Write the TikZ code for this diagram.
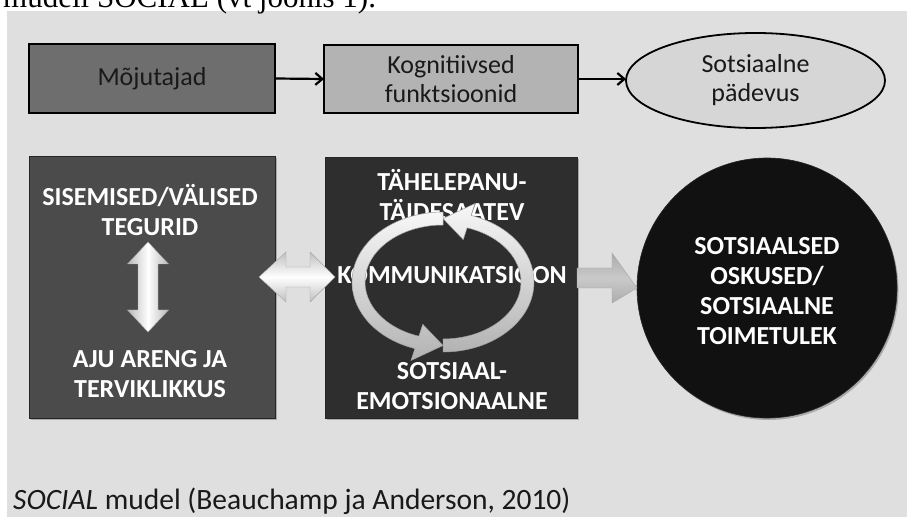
\documentclass[tikz,border=0pt]{standalone}
\usepackage{fontspec}
\setmainfont{Carlito}
\newfontfamily\serifft{Liberation Serif}
\usetikzlibrary{shadows,calc,shapes.geometric,arrows.meta}
\definecolor{bg}{HTML}{DFDFDF}
\definecolor{mojfill}{HTML}{6E6E6E}
\definecolor{kogfill}{HTML}{B3B3B3}
\definecolor{padfill}{HTML}{D6D6D6}
\definecolor{extfill}{HTML}{4B4B4B}
\definecolor{midfill}{HTML}{2E2E2E}
\definecolor{outfill}{HTML}{111111}
\begin{document}
\begin{tikzpicture}[x=1pt,y=1pt,
  topbox/.style={draw=black, line width=2.2pt, inner sep=0pt, outer sep=0pt, align=center,
    font=\fontsize{26}{29}\selectfont, text=black!90},
  darkbox/.style={draw=black!85, line width=0.6pt, inner sep=0pt, outer sep=0pt,
    drop shadow={shadow xshift=1.5pt, shadow yshift=-2pt, opacity=0.55}},
  wtext/.style={text=white, inner sep=0pt, align=center, font=\bfseries\fontsize{26}{30}\selectfont},
  flow/.style={-{Straight Barb[length=7pt,width=12pt]}, line width=2.2pt},
  ring/.style={draw=gray!75, line width=0.5pt, top color=gray!6, bottom color=gray!60},
  blockarrow/.style={draw=gray!70, line width=0.4pt}
]
\useasboundingbox (0,0) rectangle (907,517);
\clip (0,0) rectangle (907,517);
\fill[white] (0,0) rectangle (907,517);
\fill[bg] (7,0) rectangle (907,506);
\node[anchor=base west, font=\serifft\fontsize{31}{31}\selectfont, inner sep=0pt] (intro) at (3,509) {mudeli SOCIAL (vt joonis 1).};

% top row
\node[topbox, fill=mojfill, minimum width=246, minimum height=69] (moj) at (152,438.5) {Mõjutajad};
\node[topbox, fill=kogfill, minimum width=254, minimum height=68] (kog) at (451,438) {Kognitiivsed\\funktsioonid};
\node[topbox, ellipse, line width=1.8pt, fill=padfill, minimum width=259, minimum height=95] (pad) at (755.5,436.5) {Sotsiaalne\\pädevus};
\draw[flow] (moj.east) -- (kog.west);
\draw[flow] (kog.east) -- (kog.east -| pad.west);

% bottom row
\node[darkbox, fill=extfill, minimum width=246, minimum height=262] (ext) at (152,230) {};
\node[darkbox, fill=midfill, minimum width=252, minimum height=261] (mid) at (451,229.5) {};
\node[darkbox, circle, fill=outfill, minimum size=260] (out) at (767,229) {};
\node[wtext] (outtxt) at (767,226) {SOTSIAALSED\\OSKUSED/\\SOTSIAALNE\\TOIMETULEK};

\node[wtext] (ext1) at (150,307) {SISEMISED/VÄLISED\\TEGURID};
\node[wtext] (ext2) at (150,143) {AJU ARENG JA\\TERVIKLIKKUS};
\node[wtext] (mid1) at (452,322) {TÄHELEPANU-\\TÄIDESAATEV};
\node[wtext] (mid2) at (452,242) {KOMMUNIKATSIOON};
\node[wtext] (mid3) at (452,131) {SOTSIAAL-\\EMOTSIONAALNE};

% vertical double arrow
\draw[blockarrow, left color=gray!55, right color=gray!55, middle color=white]
  (148,275) -- (168.5,253) -- (158,253) -- (158,207) -- (168.5,207) -- (148,185)
  -- (127.5,207) -- (138,207) -- (138,253) -- (127.5,253) -- cycle;

% horizontal double arrow between boxes
\draw[blockarrow, top color=gray!50, bottom color=gray!50, middle color=white]
  (259,240) -- (286,265) -- (286,250) -- (310,250) -- (310,265) -- (335,240)
  -- (310,215) -- (310,230) -- (286,230) -- (286,215) -- cycle;

% block arrow to circle
\draw[blockarrow, top color=gray!65, bottom color=gray!65, middle color=gray!42]
  (mid.east |- 0,249) -- (612,249) -- (612,264) -- (out.west) -- (612,214) -- (612,229) -- (mid.east |- 0,229) -- cycle;

% circular arrows
\begin{scope}[shift={(443,235)}]
  \draw[ring] (0,-70) arc[start angle=-90, end angle=72, x radius=91, y radius=70]
    -- ({103.5*cos(72)},{82.5*sin(72)}) -- (0,63.5)
    -- ({65.5*cos(72)},{44.5*sin(72)}) -- ({78*cos(72)},{57*sin(72)})
    arc[start angle=72, end angle=-90, x radius=78, y radius=57] -- cycle;
  \draw[ring] (0,70) arc[start angle=90, end angle=252, x radius=91, y radius=70]
    -- ({103.5*cos(252)},{82.5*sin(252)}) -- (0,-63.5)
    -- ({65.5*cos(252)},{44.5*sin(252)}) -- ({78*cos(252)},{57*sin(252)})
    arc[start angle=252, end angle=90, x radius=78, y radius=57] -- cycle;
\end{scope}

\node[anchor=base west, inner sep=0pt, font=\fontsize{29.5}{32}\selectfont, text=black!90] (cap) at (13,7.5)
  {\textit{SOCIAL} mudel (Beauchamp ja Anderson, 2010)};
\end{tikzpicture}
\end{document}
